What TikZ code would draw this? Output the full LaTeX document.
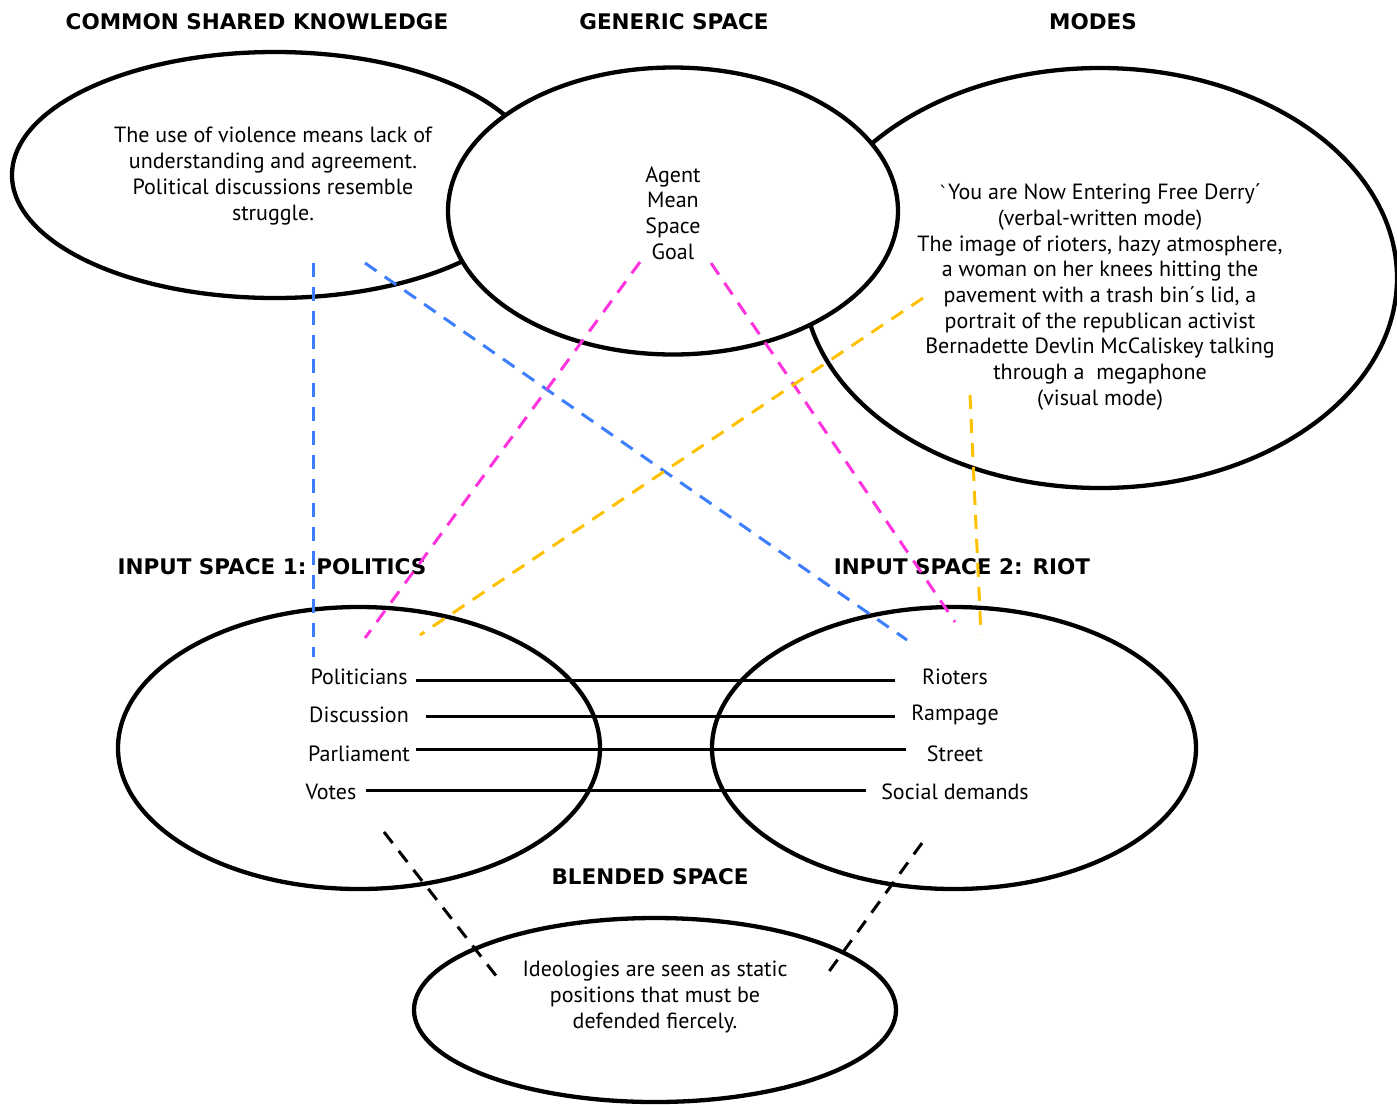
\documentclass[tikz,border=0pt]{standalone}
\usepackage{fontspec}
\setmainfont{PT Sans}
\newfontfamily\headfont{DejaVu Sans}
\usetikzlibrary{shapes.geometric}
\definecolor{mapblue}{HTML}{3D7EFF}
\definecolor{mappink}{HTML}{FF33DD}
\definecolor{maporange}{HTML}{FFC000}
\newcommand{\gravemark}{{\headfont\fontsize{18}{20}\selectfont\char"60\relax}}
\newcommand{\acutemark}{\char"B4\relax}
\tikzset{
  space/.style={draw, ellipse, line width=4.3pt, inner sep=0pt},
  title/.style={font=\headfont\fontsize{21.5}{24}\selectfont\bfseries, inner sep=0pt},
  body/.style={font=\fontsize{22}{25.7}\selectfont, align=center, inner sep=0pt},
  item/.style={font=\fontsize{22}{25}\selectfont, inner sep=0pt},
  link/.style={line width=3pt},
  proj/.style={line width=3pt, dash pattern=on 14pt off 10pt},
}
\begin{document}
\begin{tikzpicture}[x=1pt, y=-1pt]
\useasboundingbox (0,0) rectangle (1397,1104);

% headings
\node[title] (tcsk) at (257,22) {COMMON SHARED KNOWLEDGE};
\node[title] (tgen) at (674,22) {GENERIC SPACE};
\node[title] (tmod) at (1093,22) {MODES};
\node[title] (tin1) at (272,567) {INPUT SPACE 1: POLITICS};
\node[title] (tin2) at (962,567) {INPUT SPACE 2: RIOT};
\node[title] (tbl) at (650,877) {BLENDED SPACE};

% the five spaces (generic space overlaps the two upper ones)
\node[space, minimum width=526pt, minimum height=246pt] (csk) at (275,175) {};
\node[space, minimum width=594pt, minimum height=420pt] (mod) at (1100,278) {};
\node[space, fill=white, minimum width=450pt, minimum height=287pt] (gen) at (673,211) {};
\node[space, minimum width=482pt, minimum height=282pt] (in1) at (359,748) {};
\node[space, minimum width=484pt, minimum height=282pt] (in2) at (954,748) {};
\node[space, minimum width=482pt, minimum height=184pt] (bl) at (655,1010) {};

% contents
\node[body] (cskt) at (273,176) {The use of violence means lack of\\understanding and agreement.\\Political discussions resemble\\struggle.};
\node[body] (gent) at (673,213) {Agent\\Mean\\Space\\Goal};
\node[body] (modt) at (1100,297) {\gravemark You are Now Entering Free Derry\acutemark\\(verbal-written mode)\\The image of rioters, hazy atmosphere,\\a woman on her knees hitting the\\pavement with a trash bin\acutemark s lid, a\\portrait of the republican activist\\Bernadette Devlin McCaliskey talking\\through a~ megaphone\\(visual mode)};
\node[body] (blt) at (655,997) {Ideologies are seen as static\\positions that must be\\defended fiercely.};

\node[item] (pol) at (359,677) {Politicians};
\node[item] (dis) at (359,715) {Discussion};
\node[item] (par) at (359,754) {Parliament};
\node[item] (vot) at (331,792) {Votes};
\node[item] (rio) at (955,677) {Rioters};
\node[item] (ram) at (955,715) {Rampage};
\node[item] (str) at (955,754) {Street};
\node[item] (soc) at (955,792) {Social demands};

% ends of the correspondence lines
\coordinate (polR) at (416,680);  \coordinate (rioL) at (895,680);
\coordinate (disR) at (426,716);  \coordinate (ramL) at (895,716);
\coordinate (parR) at (416,749);  \coordinate (strL) at (906,749);
\coordinate (votR) at (366,790);  \coordinate (socL) at (866,790);

\draw[link] (polR) -- (rioL);
\draw[link] (disR) -- (ramL);
\draw[link] (parR) -- (strL);
\draw[link] (votR) -- (socL);

% ends of the projection lines
\coordinate (cskA) at (313,263);  \coordinate (in1A) at (313,657);
\coordinate (cskB) at (365,263);  \coordinate (in2B) at (907,640);
\coordinate (genA) at (640,262);  \coordinate (in1C) at (365,638);
\coordinate (genB) at (711,263);  \coordinate (in2D) at (955,622);
\coordinate (modA) at (923,298);  \coordinate (in1E) at (420,635);
\coordinate (modB) at (970,395);  \coordinate (in2F) at (981,635);
\coordinate (in1G) at (384,832);  \coordinate (blG) at (497,977);
\coordinate (in2H) at (922,843);  \coordinate (blH) at (825,977);

\draw[proj, mapblue] (cskA) -- (in1A);
\draw[proj, mapblue] (cskB) -- (in2B);
\draw[proj, mappink] (genA) -- (in1C);
\draw[proj, mappink] (genB) -- (in2D);
\draw[proj, maporange] (modA) -- (in1E);
\draw[proj, maporange] (modB) -- (in2F);
\draw[proj, black] (in1G) -- (blG);
\draw[proj, black] (in2H) -- (blH);
\end{tikzpicture}
\end{document}
